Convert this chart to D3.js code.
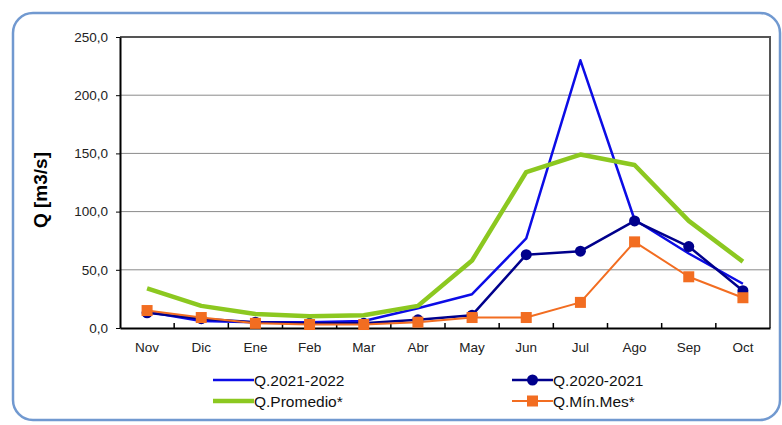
<!DOCTYPE html>
<html>
<head>
<meta charset="utf-8">
<script src="https://cdn.jsdelivr.net/npm/d3@7"></script>
<style>
  body { margin: 0; background: #fff; }
  svg { display: block; font-family: Arial, "Liberation Sans", sans-serif; }
</style>
</head>
<body>
<svg id="svg" width="782" height="425"></svg>
<script>
var months = ["Nov", "Dic", "Ene", "Feb", "Mar", "Abr", "May", "Jun", "Jul", "Ago", "Sep", "Oct"];
var q2122 = [14, 6, 5, 5, 6, 17, 29, 77, 230, 93, 64, 38];
var q2021 = [13, 8, 5, 4, 4, 7, 11, 63, 66, 92, 70, 32];
var qProm = [34, 19, 12, 10, 11, 19, 58, 134, 149, 140, 92, 57];
var qMin = [15, 9, 4, 3, 3, 5, 9, 9, 22, 74, 44, 26];
var yTicks = [0, 50, 100, 150, 200, 250];

var series = [
  { name: "Q.2021-2022", values: q2122, color: "#0c0ce6", width: 2.5, marker: null },
  { name: "Q.2020-2021", values: q2021, color: "#00008c", width: 2.5, marker: "circle" },
  { name: "Q.Promedio*", values: qProm, color: "#8cc820", width: 4.5, marker: null },
  { name: "Q.Mín.Mes*", values: qMin, color: "#f26d21", width: 2, marker: "square" }
];

var svg = d3.select('#svg');
var margin = { top: 37, left: 120 };
var innerW = 770 - margin.left;
var innerH = 328 - margin.top;

// outer rounded frame
svg.append('rect')
  .attr('x', 13).attr('y', 13)
  .attr('width', 767).attr('height', 407)
  .attr('rx', 20)
  .attr('fill', 'none')
  .attr('stroke', '#7199d0')
  .attr('stroke-width', 2.5);

var g = svg.append('g').attr('transform', 'translate(' + margin.left + ',' + margin.top + ')');

var x = d3.scaleBand().domain(months).range([0, innerW]);
var y = d3.scaleLinear().domain([0, 250]).range([innerH, 0]);
var fmt = function(d) { return d3.format('.1f')(d).replace('.', ','); };

// grid
g.selectAll('.grid').data(yTicks.slice(1, -1)).enter().append('line')
  .attr('x1', 0).attr('x2', innerW)
  .attr('y1', function(d) { return y(d); }).attr('y2', function(d) { return y(d); })
  .attr('stroke', '#8a8a8a').attr('stroke-width', 1);

// top and right border
g.append('path')
  .attr('d', 'M0,' + y(250) + 'H' + innerW + 'V' + innerH)
  .attr('fill', 'none').attr('stroke', '#555').attr('stroke-width', 2);

// y axis
var yAxis = g.append('g').call(d3.axisLeft(y).tickValues(yTicks).tickFormat(fmt).tickSize(4).tickSizeOuter(0));
yAxis.select('.domain').attr('stroke', '#000').attr('stroke-width', 2);
yAxis.selectAll('.tick line').attr('stroke', '#000');
yAxis.selectAll('.tick text').attr('font-size', 13.5).attr('fill', '#222').attr('x', -12);

// x axis
var xAxis = g.append('g').attr('transform', 'translate(0,' + innerH + ')')
  .call(d3.axisBottom(x).tickSize(0).tickSizeOuter(0));
xAxis.select('.domain').attr('stroke', '#000').attr('stroke-width', 2);
xAxis.selectAll('.tick text').attr('font-size', 13.5).attr('fill', '#222').attr('y', 14).attr('dy', '0.71em');
// inner tick marks between categories
g.selectAll('.xtick').data(months.slice(1)).enter().append('line')
  .attr('x1', function(d) { return x(d); }).attr('x2', function(d) { return x(d); })
  .attr('y1', innerH).attr('y2', innerH - 5)
  .attr('stroke', '#000').attr('stroke-width', 1.5);

// y title
svg.append('text')
  .attr('transform', 'translate(47,190) rotate(-90)')
  .attr('text-anchor', 'middle')
  .attr('font-size', 19).attr('font-weight', 'bold')
  .text('Q [m3/s]');

var line = d3.line()
  .x(function(d, i) { return x(months[i]) + x.bandwidth() / 2; })
  .y(function(d) { return y(d); });

function drawMarker(sel, type, color, cx, cy) {
  if (type === 'circle') {
    sel.append('circle').attr('cx', cx).attr('cy', cy).attr('r', 5.5).attr('fill', color);
  } else if (type === 'square') {
    sel.append('rect').attr('x', cx - 5.5).attr('y', cy - 5.5).attr('width', 11).attr('height', 11).attr('fill', color);
  }
}

series.forEach(function(s) {
  g.append('path')
    .datum(s.values)
    .attr('d', line)
    .attr('fill', 'none')
    .attr('stroke', s.color)
    .attr('stroke-width', s.width)
    .attr('stroke-linejoin', 'round');
  if (s.marker) {
    var mg = g.append('g');
    s.values.forEach(function(v, i) {
      drawMarker(mg, s.marker, s.color, x(months[i]) + x.bandwidth() / 2, y(v));
    });
  }
});

// legend
var legendPos = [[213, 380], [512, 380], [213, 401], [512, 401]];
series.forEach(function(s, i) {
  var lg = svg.append('g').attr('transform', 'translate(' + legendPos[i][0] + ',' + legendPos[i][1] + ')');
  lg.append('line').attr('x1', 0).attr('x2', 41).attr('y1', 0).attr('y2', 0)
    .attr('stroke', s.color).attr('stroke-width', s.width);
  drawMarker(lg, s.marker, s.color, 20.5, 0);
  lg.append('text').attr('x', 41).attr('y', 6)
    .attr('font-size', 15.5).attr('fill', '#111')
    .text(s.name);
});
</script>
</body>
</html>
